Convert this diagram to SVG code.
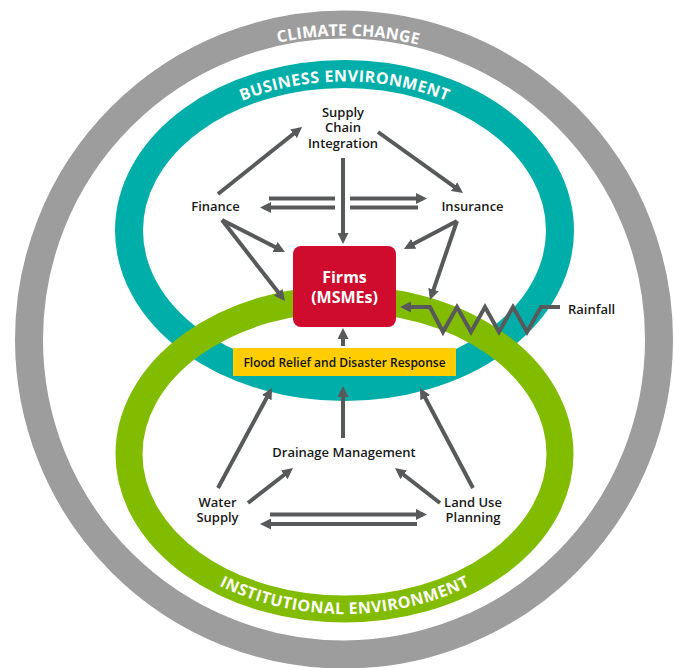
<svg xmlns="http://www.w3.org/2000/svg" width="674" height="668" viewBox="0 0 674 668">
<style>
.ring{fill:none}
.rl{font-family:"Open Sans","Liberation Sans",sans-serif;font-weight:700;font-size:16px;fill:#ffffff;dominant-baseline:central}
.lbl{font-family:"Open Sans","Liberation Sans",sans-serif;font-weight:600;font-size:13px;fill:#1a1a1a;text-anchor:middle}
.firm{font-family:"Open Sans","Liberation Sans",sans-serif;font-weight:700;font-size:16px;fill:#ffffff;text-anchor:middle}
.fl{font-family:"Open Sans","Liberation Sans",sans-serif;font-weight:600;font-size:12px;fill:#111111;text-anchor:middle}
.c{fill:none;stroke:#58595b;stroke-width:4;stroke-linecap:butt}
.ca{fill:none;stroke:#58595b;stroke-width:4;stroke-linecap:butt;marker-end:url(#ah)}
</style>
<defs>
<marker id="ah" viewBox="0 0 11 11" markerUnits="userSpaceOnUse" markerWidth="11" markerHeight="11" refX="7" refY="5.5" orient="auto">
<path d="M0,0 L11,5.5 L0,11 z" fill="#58595b"/>
</marker>
<path id="pClimate" d="M34,339.5 A310,310 0 0 1 654,339.5"/>
<path id="pBusiness" d="M131,230.5 A213.5,155 0 0 1 558,230.5"/>
<path id="pInst" d="M131,454 A213.5,154 0 0 0 558,454"/>
</defs>

<g id="rings">
<circle class="ring" cx="344" cy="339.5" r="315" stroke="#9e9d9e" stroke-width="28"/>
<ellipse class="ring" cx="344.5" cy="230.5" rx="215.5" ry="156.5" stroke="#00aea9" stroke-width="28"/>
<ellipse class="ring" cx="344.5" cy="454" rx="215.5" ry="155" stroke="#82bc00" stroke-width="27"/>
</g>

<g id="ring-labels">
<text class="rl"><textPath href="#pClimate" startOffset="491" text-anchor="middle" textLength="144" lengthAdjust="spacing">CLIMATE CHANGE</textPath></text>
<text class="rl"><textPath href="#pBusiness" startOffset="50%" text-anchor="middle" textLength="214" lengthAdjust="spacing">BUSINESS ENVIRONMENT</textPath></text>
<text class="rl"><textPath href="#pInst" startOffset="50%" text-anchor="middle" textLength="254" lengthAdjust="spacing">INSTITUTIONAL ENVIRONMENT</textPath></text>
</g>

<g id="connectors">
<line class="ca" x1="218" y1="194" x2="298.9" y2="129.5"/>
<line class="ca" x1="378" y1="132" x2="459.7" y2="190.7"/>
<line class="ca" x1="343" y1="158" x2="343" y2="240"/>
<line class="c" x1="269" y1="198.5" x2="335" y2="198.5"/>
<line class="ca" x1="350" y1="198.5" x2="423" y2="198.5"/>
<line class="c" x1="418" y1="207.5" x2="350" y2="207.5"/>
<line class="ca" x1="335" y1="207.5" x2="264" y2="207.5"/>
<line class="ca" x1="222" y1="220" x2="281.4" y2="250.2"/>
<line class="ca" x1="222" y1="220" x2="282.5" y2="297.8"/>
<line class="ca" x1="457" y1="221" x2="407.5" y2="247.1"/>
<line class="ca" x1="457" y1="221" x2="431.3" y2="296.2"/>
<line class="ca" x1="343" y1="346" x2="343" y2="332"/>
<polyline class="ca" stroke-linejoin="miter" points="560,307 541,307 527,332 513,307 499,332 485,307 471,332 457,307 443,332 430,307 404,307"/>
<line class="ca" x1="218" y1="488" x2="270.1" y2="391.5"/>
<line class="ca" x1="343" y1="438" x2="343" y2="390"/>
<line class="ca" x1="473" y1="488" x2="421.9" y2="391.5"/>
<line class="ca" x1="248" y1="503" x2="289.8" y2="470.5"/>
<line class="ca" x1="440" y1="503" x2="398.2" y2="470.5"/>
<line class="ca" x1="270" y1="514.5" x2="423" y2="514.5"/>
<line class="ca" x1="417" y1="524" x2="264" y2="524"/>
</g>

<g id="supply-chain">
<text class="lbl" x="343" y="116.5">Supply</text>
<text class="lbl" x="343" y="132">Chain</text>
<text class="lbl" x="343" y="148">Integration</text>
</g>
<g id="finance"><text class="lbl" x="215.5" y="211">Finance</text></g>
<g id="insurance"><text class="lbl" x="472.5" y="211">Insurance</text></g>
<g id="firms">
<rect x="293" y="246" width="103" height="81" rx="8" fill="#cf0c2e"/>
<text class="firm" x="344.5" y="283">Firms</text>
<text class="firm" x="344.5" y="303">(MSMEs)</text>
</g>
<g id="flood-relief">
<rect x="233" y="348" width="223" height="28" fill="#ffcd00"/>
<text class="fl" x="344.5" y="366.5">Flood Relief and Disaster Response</text>
</g>
<g id="rainfall"><text class="lbl" x="568" y="314" style="text-anchor:start">Rainfall</text></g>
<g id="drainage"><text class="lbl" x="344" y="457">Drainage Management</text></g>
<g id="water-supply">
<text class="lbl" x="217.5" y="506.5">Water</text>
<text class="lbl" x="217.5" y="521.5">Supply</text>
</g>
<g id="land-use">
<text class="lbl" x="473" y="506.5">Land Use</text>
<text class="lbl" x="473" y="521.5">Planning</text>
</g>
</svg>
